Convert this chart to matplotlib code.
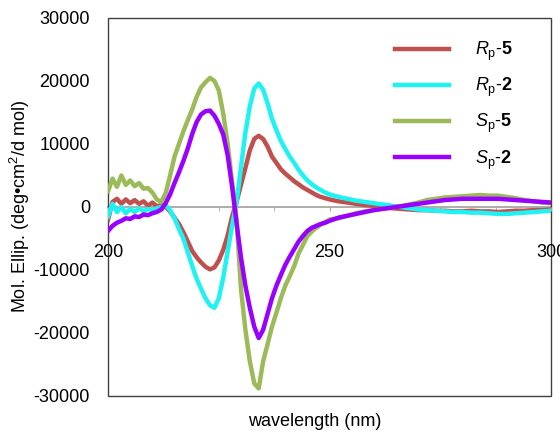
import numpy as np
import matplotlib.pyplot as plt
from matplotlib.patches import Rectangle

plt.rcParams['font.family'] = ['Liberation Sans', 'DejaVu Sans']
plt.rcParams['mathtext.fontset'] = 'custom'
plt.rcParams['mathtext.rm'] = 'Liberation Sans'
plt.rcParams['mathtext.it'] = 'Liberation Sans:italic'
plt.rcParams['mathtext.bf'] = 'Liberation Sans:bold'
plt.rcParams['axes.unicode_minus'] = False

# wavelength (nm): 1 nm steps up to 250, then 2 nm steps
wl = list(range(200, 251)) + list(range(252, 301, 2))

# molar ellipticity
rp5 = [-2000, 800, 1300, 500, 1200, 600, 1100, 500, 900, 200,
       700, 100, 300, 0, -700, -1700, -2700, -4000, -5500, -7000,
       -8000, -8800, -9500, -9900, -9600, -8500, -6800, -4500, -1500, 800,
       3500, 6200, 9000, 10800, 11300, 10800, 9600, 8000, 7000, 6000,
       5300, 4700, 4100, 3600, 3100, 2700, 2300, 1900, 1600, 1400,
       1200,
       900, 700, 500, 300, 200, 0, -200, -300, -400, -500,
       -500, -600, -600, -700, -700, -600, -700, -700, -800, -700,
       -600, -600, -500, -500, -400]

rp2 = [-1500, 500, -800, 0, -1000, -300, -800, -200, -700, -300,
       -500, -200, 0, 300, -500, -1800, -3500, -5000, -7200, -9400,
       -11400, -13000, -14500, -15600, -16000, -14500, -11200, -7000, -3000, 700,
       6300, 11800, 16000, 18800, 19600, 18600, 16500, 14000, 12200, 10500,
       9200, 8000, 7000, 5900, 5000, 4200, 3600, 3100, 2700, 2300,
       2000,
       1600, 1300, 1000, 800, 600, 400, 200, 0, -200, -400,
       -500, -600, -700, -800, -800, -900, -900, -1000, -1100, -1100,
       -1000, -900, -800, -700, -600]

sp5 = [2500, 4500, 3200, 5000, 3500, 4200, 3300, 3800, 2900, 3000,
       2300, 1200, 800, 2200, 5000, 8000, 10000, 12000, 13800, 15500,
       17500, 19000, 19800, 20500, 20000, 18500, 14800, 10000, 4000, -2000,
       -13000, -19500, -24500, -28000, -28800, -24500, -21800, -19000, -16800, -14500,
       -12500, -11000, -9400, -7400, -6000, -4600, -3900, -3300, -2800, -2400,
       -2000,
       -1800, -1400, -1000, -700, -500, -300, -100, 100, 400, 700,
       1100, 1300, 1500, 1600, 1700, 1800, 1900, 1800, 1800, 1600,
       1400, 1100, 900, 700, 600]

sp2 = [-3800, -3000, -2500, -2200, -1800, -1900, -1500, -1600, -1200, -1300,
       -1000, -800, -400, 600, 2000, 3800, 5500, 7300, 9300, 11600,
       13500, 14700, 15200, 15300, 14500, 13200, 11500, 8200, 3200, -2500,
       -8000, -12500, -16000, -19000, -20800, -19500, -17000, -14500, -12500, -10800,
       -9200, -7900, -6700, -5500, -4600, -3800, -3300, -3000, -2700, -2500,
       -2200,
       -1700, -1400, -1100, -800, -500, -300, -100, 100, 300, 500,
       700, 900, 1100, 1200, 1300, 1300, 1300, 1300, 1300, 1200,
       1100, 1000, 900, 800, 700]

fig = plt.figure(figsize=(5.6, 4.33), dpi=100)
ax = fig.add_axes([0.193, 0.0855, 0.791, 0.873])

lw = 3.2
ax.plot(wl, rp5, color='#C0504D', lw=lw, label=r'$\mathit{R}_{\mathrm{p}}$-$\mathbf{5}$')
ax.plot(wl, rp2, color='#1EF2F2', lw=lw, label=r'$\mathit{R}_{\mathrm{p}}$-$\mathbf{2}$')
ax.plot(wl, sp5, color='#9BBB59', lw=lw, label=r'$\mathit{S}_{\mathrm{p}}$-$\mathbf{5}$')
ax.plot(wl, sp2, color='#9900FF', lw=lw, label=r'$\mathit{S}_{\mathrm{p}}$-$\mathbf{2}$')

ax.set_xlim(200, 300)
ax.set_ylim(-30000, 30000)

# x axis drawn through zero, frame drawn separately
for s in ['top', 'right', 'left']:
    ax.spines[s].set_visible(False)
ax.spines['bottom'].set_position(('data', 0))
ax.spines['bottom'].set_color('#a6a6a6')
ax.spines['bottom'].set_linewidth(1.3)
ax.spines['bottom'].set_zorder(0)
ax.add_patch(Rectangle((0, 0), 1, 1, transform=ax.transAxes, fill=False,
                       edgecolor='#404040', lw=1.0, clip_on=False))

ax.set_xticks([200, 250, 300])
ax.set_xticks(np.arange(200, 301, 12.5), minor=True)
ax.tick_params(axis='x', which='both', direction='out', length=3, color='#a6a6a6',
               pad=24, labelsize=13)
ax.set_yticks(np.arange(-30000, 30001, 10000))
ax.tick_params(axis='y', length=0, pad=13, labelsize=13)

ax.set_ylabel('Mol. Ellip. (deg•cm$^2$/d mol)', fontsize=13)
ax.yaxis.set_label_coords(-0.172, 0.5)
ax.set_xlabel('wavelength (nm)', fontsize=13)
ax.xaxis.set_label_coords(0.467, -0.045)

ax.legend(loc='upper right', frameon=False, fontsize=13, handlelength=3.0,
          handletextpad=1.4, labelspacing=0.72, bbox_to_anchor=(0.95, 0.985))

plt.savefig('out.png', dpi=100)
